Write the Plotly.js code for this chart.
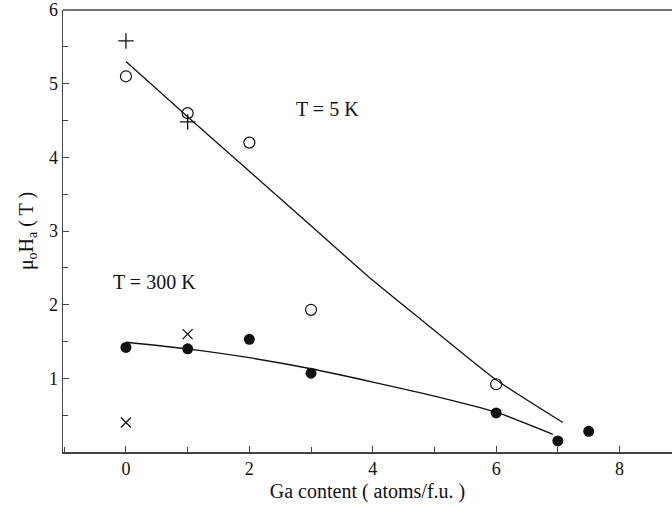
<!DOCTYPE html>
<html><head><meta charset="utf-8">
<script src="https://cdn.plot.ly/plotly-3.0.1.min.js"></script>
<style>body{margin:0;background:#fff}#c{width:672px;height:516px}</style>
</head><body><div id="c"></div>
<script>
// 5 K data
const ga5Open = [0, 1, 2, 3, 6];
const h5Open = [5.1, 4.6, 4.2, 1.93, 0.92];
const ga5Plus = [0, 1];
const h5Plus = [5.58, 4.48];
// 300 K data
const ga300Fill = [0, 1, 2, 3, 6, 7, 7.5];
const h300Fill = [1.42, 1.40, 1.53, 1.07, 0.53, 0.15, 0.28];
const ga300Cross = [0, 1];
const h300Cross = [0.4, 1.6];
// guide curves
const ga5Curve = [0, 1, 2, 3, 4, 5, 6, 7.08];
const h5Curve = [5.30, 4.55, 3.81, 3.07, 2.33, 1.65, 0.98, 0.40];
const ga300Curve = [0, 1, 2, 3, 4, 5, 6, 6.92];
const h300Curve = [1.49, 1.40, 1.28, 1.13, 0.95, 0.76, 0.54, 0.24];

const serif = '"Liberation Serif", "Times New Roman", serif';
const tickFont = {family: serif, color: '#111', size: 18};
const titleFont = {family: serif, color: '#111', size: 20};
const traces = [
  {x: ga5Curve, y: h5Curve, mode: 'lines', line: {color: '#111', width: 1.3, shape: 'spline', smoothing: 0.6}},
  {x: ga300Curve, y: h300Curve, mode: 'lines', line: {color: '#111', width: 1.3, shape: 'spline', smoothing: 0.6}},
  {x: ga5Open, y: h5Open, mode: 'markers', marker: {symbol: 'circle-open', size: 11, color: '#111', line: {width: 1.2}}},
  {x: ga5Plus, y: h5Plus, mode: 'markers', marker: {symbol: 'cross-thin-open', size: 11, color: '#111', line: {width: 1.3}}},
  {x: ga300Fill, y: h300Fill, mode: 'markers', marker: {symbol: 'circle', size: 11, color: '#111'}},
  {x: ga300Cross, y: h300Cross, mode: 'markers', marker: {symbol: 'x-thin-open', size: 10, color: '#111', line: {width: 1.3}}}
];
const layout = {
  width: 672, height: 516,
  margin: {l: 63, r: 0, t: 10, b: 64},
  paper_bgcolor: '#fff', plot_bgcolor: '#fff',
  showlegend: false,
  font: tickFont,
  xaxis: {
    range: [-1.02, 8.85], showgrid: false, zeroline: false,
    showline: true, linecolor: '#444', linewidth: 1.5,
    tickmode: 'array', tickvals: [0, 2, 4, 6, 8], ticks: 'inside', ticklen: 6, tickcolor: '#444',
    minor: {tickvals: [-1, 1, 3, 5, 7], ticks: 'inside', ticklen: 5, tickcolor: '#444'},
    tickfont: tickFont,
    title: {text: 'Ga content ( atoms/f.u. )', font: titleFont, standoff: 6}
  },
  yaxis: {
    range: [0, 6], showgrid: false, zeroline: false,
    showline: true, linecolor: '#444', linewidth: 1.5,
    tickmode: 'array', tickvals: [1, 2, 3, 4, 5, 6], ticks: 'inside', ticklen: 6, tickcolor: '#444',
    minor: {dtick: 0.5, ticks: 'inside', ticklen: 5, tickcolor: '#444'},
    tickfont: tickFont,
    title: {text: 'μ<sub>o</sub>H<sub>a</sub> ( T )', font: titleFont, standoff: 10}
  },
  shapes: [{type: 'line', xref: 'paper', yref: 'paper', x0: 0, x1: 1, y0: 1, y1: 1, line: {color: '#444', width: 1.5}}],
  annotations: [
    {x: 3.27, y: 4.65, text: 'T = 5 K', showarrow: false, font: titleFont},
    {x: 0.47, y: 2.31, text: 'T = 300 K', showarrow: false, font: titleFont}
  ]
};
Plotly.newPlot('c', traces, layout, {displayModeBar: false, staticPlot: true});
</script>
</body></html>
